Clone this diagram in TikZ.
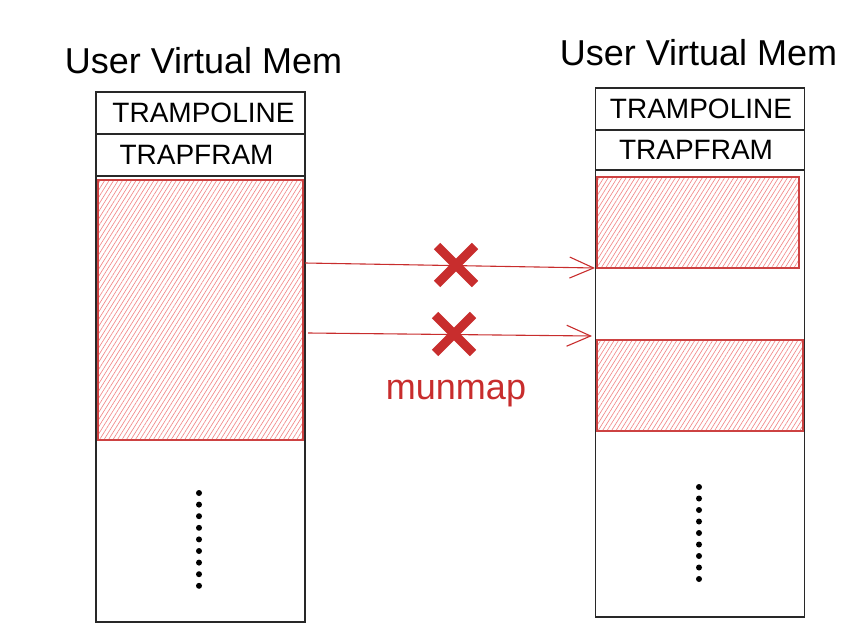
\documentclass[tikz,border=0pt]{standalone}
\usepackage{fontspec}
\setmainfont{Liberation Sans}
\usetikzlibrary{arrows.meta,patterns.meta,calc}
\definecolor{xred}{RGB}{200,45,45}
\definecolor{hred}{RGB}{242,135,135}
\definecolor{boxline}{RGB}{40,40,40}
\begin{document}
\begin{tikzpicture}[x=1pt,y=-1pt,
  memcol/.style={draw=boxline,line width=1.6pt,inner sep=0pt,minimum width=209pt},
  cell/.style={draw=boxline,line width=1.4pt,inner sep=0pt,minimum width=209pt,font=\fontsize{28}{30}\selectfont},
  hatchbox/.style={draw=xred!90,line width=1.1pt,inner sep=0pt,
     pattern={Lines[angle=58,distance=3.8pt,line width=0.65pt]},pattern color=hred},
  title/.style={font=\fontsize{36}{40}\selectfont,anchor=base},
  maparrow/.style={draw=xred,line width=1.1pt,-{Straight Barb[length=24pt,width=21pt,line width=1.1pt]}},
  xmark/.style={draw=xred,line width=9pt},
  dot/.style={circle,fill=black,inner sep=0pt,minimum size=6pt}]
\useasboundingbox (0,0) rectangle (866,642);
% titles
\node[title] (t1) at (203.5,73) {User Virtual Mem};
\node[title] (t2) at (698.5,66) {User Virtual Mem};
% left column
\node[memcol,minimum height=530pt] (lmem) at (200.5,357) {};
\node[cell,minimum height=42pt] (ltramp) at (200.5,113) {\hspace*{6pt}TRAMPOLINE};
\node[cell,minimum height=42pt] (ltrap) at (200.5,155) {\hspace*{-8pt}TRAPFRAM};
\node[hatchbox,minimum width=205pt,minimum height=260pt] (lred) at (200.5,310) {};
% right column
\node[memcol,minimum height=529pt] (rmem) at (700,352.5) {};
\node[cell,minimum height=42pt] (rtramp) at (700,109) {\hspace*{2pt}TRAMPOLINE};
\node[cell,minimum height=40pt] (rtrap) at (700,150) {\hspace*{-8pt}TRAPFRAM};
\node[hatchbox,minimum width=202pt,minimum height=91pt] (rred1) at (698,222.5) {};
\node[hatchbox,minimum width=206pt,minimum height=91pt] (rred2) at (700,385.5) {};
% arrows
\coordinate (a1s) at (305,263);
\coordinate (a1e) at (595,268);
\coordinate (a2s) at (308,333);
\coordinate (a2e) at (592,336);
\draw[maparrow] (a1s) -- (a1e);
\draw[maparrow] (a2s) -- (a2e);
% crosses
\coordinate (x1) at (456,265);
\coordinate (x2) at (454,334);
\draw[xmark] ($(x1)+(-19,-19)$) -- ($(x1)+(19,19)$) ($(x1)+(19,-19)$) -- ($(x1)+(-19,19)$);
\draw[xmark] ($(x2)+(-19,-19)$) -- ($(x2)+(19,19)$) ($(x2)+(19,-19)$) -- ($(x2)+(-19,19)$);
\node[font=\fontsize{36}{40}\selectfont,text=xred] (mm) at (456,394) {munmap};
% dots
\foreach \i in {0,...,8}{
  \node[dot] (ld\i) at (199,{493+11.6*\i}) {};
  \node[dot] (rd\i) at (699,{487+11.5*\i}) {};
}
\end{tikzpicture}
\end{document}
